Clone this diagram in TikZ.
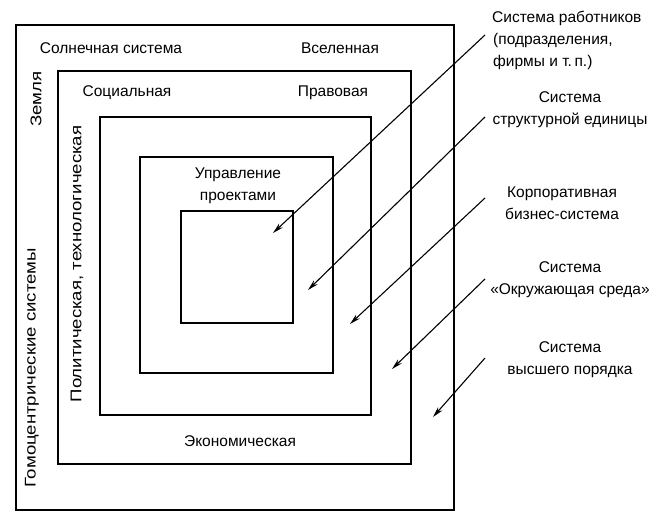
\documentclass[tikz,border=0pt]{standalone}
\usepackage{fontspec}
\setmainfont{Liberation Sans}
\usetikzlibrary{arrows.meta}
\begin{document}
\begin{tikzpicture}[x=1pt,y=-1pt,
 box/.style={draw,line width=1.5pt},
 lab/.style={font=\fontsize{15.5}{22}\selectfont, inner sep=0pt},
 vlab/.style={lab,rotate=90},
 ptr/.style={line width=1.1pt,-{Stealth[length=11pt,width=5.5pt]}}]
\useasboundingbox (0,0) rectangle (658,528);
% nested boxes
\draw[box] (16,25) rectangle (454,510);
\draw[box] (58,71) rectangle (411,464);
\draw[box] (100,117) rectangle (371,415);
\draw[box] (140,157) rectangle (333,373);
\draw[box] (181,211) rectangle (293,323);
% inner labels
\node[lab] (solar) at (111,48) {Солнечная система};
\node[lab] (univ) at (340,48) {Вселенная};
\node[lab] (soc) at (127,93) {Социальная};
\node[lab] (prav) at (333,93) {Правовая};
\node[vlab] (earth) at (36,99) {\scalebox{1.2}[1]{Земля}};
\node[vlab] (polit) at (77,264) {\scalebox{1.2}[1]{Политическая, технологическая}};
\node[vlab] (homo) at (32,368) {\scalebox{1.2}[1]{Гомоцентрические системы}};
\node[lab,align=center] (pm) at (238,186) {Управление\\проектами};
\node[lab] (econ) at (240,441) {Экономическая};
% right labels
\node[lab,align=left,anchor=west] (t1) at (492,40) {Система работников\\\hspace*{1pt}(подразделения,\\\hspace*{1pt}фирмы и т.\,п.)};
\node[lab,align=center] (t2) at (570,110) {Система\\структурной единицы};
\node[lab,align=center] (t3) at (562,203) {Корпоративная\\бизнес-система};
\node[lab,align=center] (t4) at (570,280) {Система\\«Окружающая среда»};
\node[lab,align=center] (t5) at (570,360) {Система\\высшего порядка};
% arrow endpoints
\coordinate (s1) at (485,35);  \coordinate (e1) at (273,233);
\coordinate (s2) at (485,117); \coordinate (e2) at (308,290);
\coordinate (s3) at (485,198); \coordinate (e3) at (350,324);
\coordinate (s4) at (485,279); \coordinate (e4) at (392,369);
\coordinate (s5) at (485,358); \coordinate (e5) at (433,417);
\draw[ptr] (s1) -- (e1);
\draw[ptr] (s2) -- (e2);
\draw[ptr] (s3) -- (e3);
\draw[ptr] (s4) -- (e4);
\draw[ptr] (s5) -- (e5);
\end{tikzpicture}
\end{document}
